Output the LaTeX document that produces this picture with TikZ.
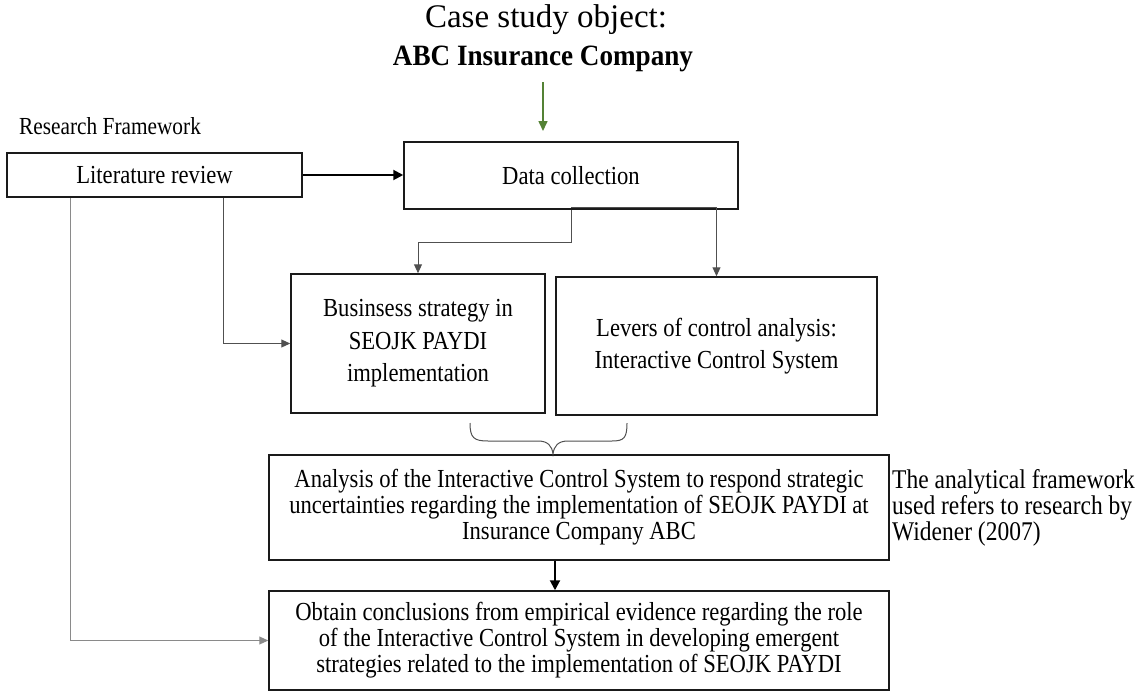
\documentclass[tikz,border=0pt]{standalone}
\usepackage{fontspec}
\setmainfont{Liberation Serif}[FakeStretch=0.87]
\newfontfamily\titlefont{Liberation Serif}
\newfontfamily\titlebold{Liberation Serif Bold}[FakeStretch=0.92]
\usetikzlibrary{arrows.meta}
\definecolor{boxline}{HTML}{1A1A1A}
\definecolor{connline}{HTML}{505050}
\definecolor{connlight}{HTML}{8A8A8A}
\definecolor{arrowgreen}{HTML}{548235}
\tikzset{
  box/.style={draw=boxline, line width=1.5pt, inner sep=0pt, align=center,
    font=\fontsize{26}{26}\selectfont},
  tallbox/.style={box, font=\fontsize{26}{32.5}\selectfont},
  conn/.style={draw=connline, line width=1pt, -{Triangle[length=9pt,width=8pt]}},
  connlt/.style={conn, draw=connlight},
  thickconn/.style={draw=black, line width=2pt, -{Triangle[length=10pt,width=10pt]}},
  greenconn/.style={draw=arrowgreen, line width=1.6pt, -{Triangle[length=10pt,width=9pt]}, arrowgreen},
  bracestyle/.style={draw=connline, line width=1pt}
}
\begin{document}
\begin{tikzpicture}[x=1pt, y=-1pt]
\useasboundingbox (0,0) rectangle (1138,691);

% title
\node[anchor=base, inner sep=0pt, font=\titlefont\fontsize{33}{36}\selectfont] (t1) at (546,27.5) {Case study object:};
\node[anchor=base, inner sep=0pt, font=\titlebold\fontsize{29.5}{30}\selectfont] (t2) at (543,65) {ABC Insurance Company};

\node[anchor=base west, inner sep=0pt, font=\fontsize{24.5}{26}\selectfont] (rf) at (19,134) {Research Framework};

% boxes
\node[box, minimum width=295pt, minimum height=44pt] (lit) at (154.5,175) {Literature review};
\node[box, minimum width=334pt, minimum height=67pt] (dc) at (571,175.5) {Data collection};
\node[tallbox, minimum width=254pt, minimum height=139pt] (bus) at (418,343.5) {Businsess strategy in\\SEOJK PAYDI\\implementation};
\node[tallbox, minimum width=321pt, minimum height=138pt] (lev) at (716.5,346) {Levers of control analysis:\\Interactive Control System};
\node[box, minimum width=620pt, minimum height=105pt] (ana) at (579,507.5) {Analysis of the Interactive Control System to respond strategic\\uncertainties regarding the implementation of SEOJK PAYDI at\\Insurance Company ABC};
\node[box, minimum width=620pt, minimum height=99pt] (con) at (579,640.5) {Obtain conclusions from empirical evidence regarding the role\\of the Interactive Control System in developing emergent\\strategies related to the implementation of SEOJK PAYDI};

\node[anchor=west, inner sep=0pt, align=left, font=\fontsize{27}{24}\selectfont] (note) at (892,508) {The analytical framework\\used refers to research by\\Widener (2007)};

% coordinates
\coordinate (g1) at (543,82);
\coordinate (g2) at (543,131);
\coordinate (xA) at (223,344);
\coordinate (xB) at (70,641);
\coordinate (dl) at (571,242);
\coordinate (xc) at (555,0);

% connectors
\draw[greenconn] (g1) -- (g2);
\draw[thickconn] (lit.east) -- (lit.east -| dc.west);
\draw[conn] (dc.south -| dl) -- (dl) -| (bus.north);
\draw[conn] ([yshift=2pt]dc.south) -| (lev.north);
\draw[conn] (lit.south -| xA) |- (bus.west);
\draw[connlt] (lit.south -| xB) |- (con.west);
\draw[thickconn] (ana.south -| xc) -- (con.north -| xc);

% brace
\draw[bracestyle] (470,423) .. controls (470,438) and (474,441) .. (488,441) -- (538,441)
  .. controls (548,441) and (552,446) .. (553,454)
  .. controls (554,446) and (558,441) .. (568,441) -- (612,441)
  .. controls (624,441) and (627,438) .. (627,423);
\end{tikzpicture}
\end{document}
